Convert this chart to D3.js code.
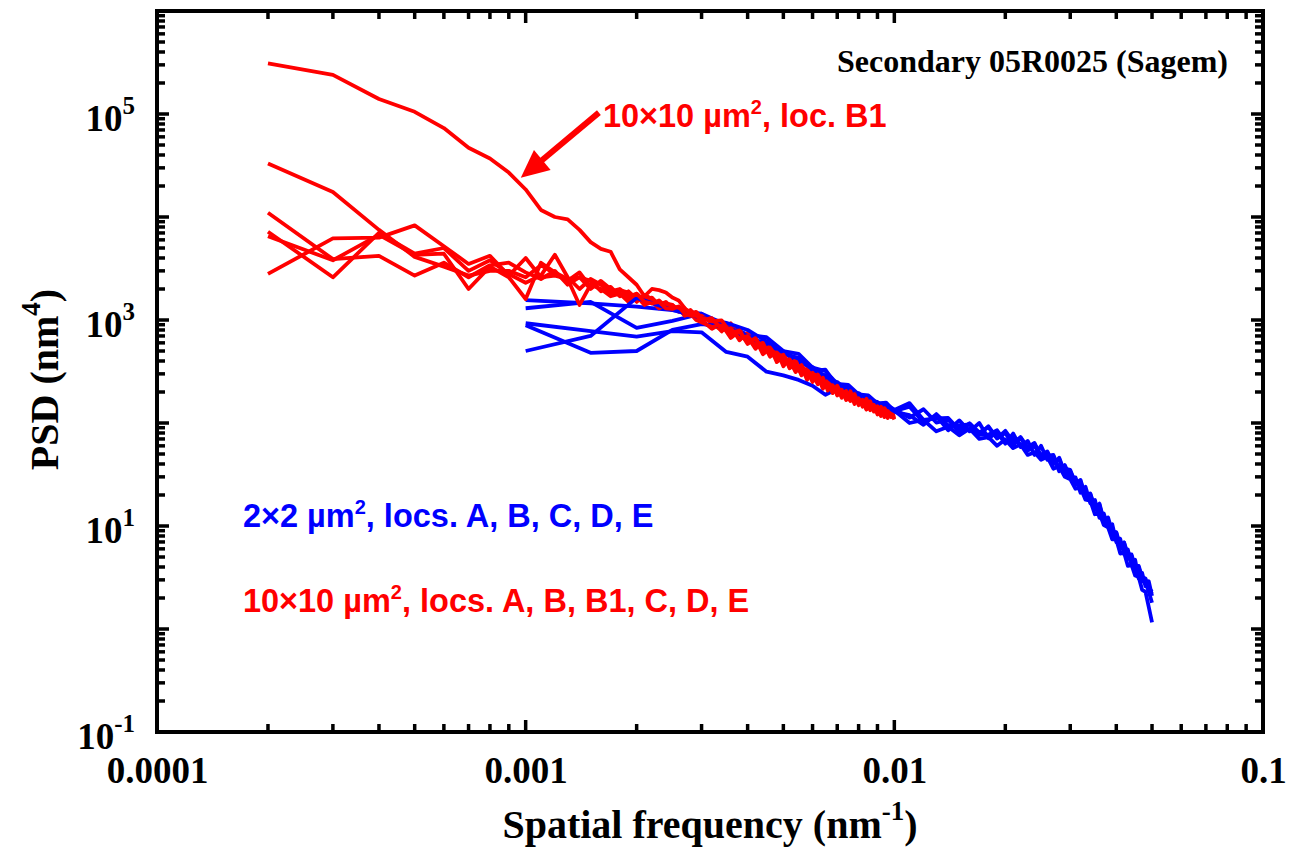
<!DOCTYPE html>
<html>
<head>
<meta charset="utf-8">
<script src="https://cdn.jsdelivr.net/npm/d3@7"></script>
<style>
  body { margin: 0; background: #fff; }
  svg { display: block; }
  .serif { font-family: "Liberation Serif", "Times New Roman", serif; font-weight: bold; }
  .sans { font-family: "Liberation Sans", Arial, sans-serif; font-weight: bold; }
</style>
</head>
<body>
<div id="chart"></div>
<script>
// frequencies (nm^-1) of the 10x10 um^2 scans
var redFreq = [0.0002,0.0003,0.0004,0.0005,0.0006,0.0007,0.0008,0.0009,0.0010,
  0.0011,0.0012,0.0013,0.0014,0.0015,0.0016,0.0017,0.0018,0.0019,0.0020,
  0.0021,0.0022,0.0023,0.0024,0.0025,0.0026,0.0027,0.0028,0.0029,0.0030,
  0.0032,0.0034,0.0036,0.0038,0.0040,0.0042,0.0044,0.0046,0.0048,0.0050,
  0.0052,0.0054,0.0056,0.0058,0.0060,0.0062,0.0064,0.0066,0.0068,0.0070,
  0.0072,0.0074,0.0076,0.0078,0.0080,0.0082,0.0084,0.0086,0.0088,0.0090,
  0.0092,0.0094,0.0096,0.0098,0.0100];

// frequencies (nm^-1) of the 2x2 um^2 scans
var blueFreq = [0.0010,0.0015,0.0020,0.0025,0.0030,0.0035,0.0040,0.0045,0.0050,0.0055,
  0.0060,0.0065,0.0070,0.0075,0.0080,0.0085,0.0090,0.0095,0.0100,
  0.011,0.012,0.013,0.014,0.015,0.016,0.017,0.018,0.019,0.020,
  0.021,0.022,0.023,0.024,0.025,0.026,0.027,0.028,0.029,0.030,
  0.031,0.032,0.033,0.034,0.035,0.036,0.037,0.038,0.039,0.040,
  0.041,0.042,0.043,0.044,0.045,0.046,0.047,0.048,0.049,0.050];

// PSD (nm^4), 10x10 um^2
var redB1 = [310000,240000,140000,105000,73000,47000,37000,27000,18500,
  11700,10000,9500,7500,5700,4900,4600,3100,2600,2200,
  1700,2000,1950,1850,1650,1550,1300,1150,1200,1050,
  975,990,750,790,600,665,490,540,435,460,
  345,390,315,320,250,295,230,245,200,230,
  190,205,164,191,153,168,146,163,129,145,
  126,139,115,123,117];
var redA = [33000,17500,7500,4100,3300,2700,3000,3000,2600,
  3400,2800,2400,2900,2100,2300,1900,2000,1700,1800,
  1550,1650,1400,1500,1300,1350,1200,1250,1100,1080,
  1020,775,930,685,685,525,625,460,505,355,
  430,335,355,262,328,240,262,216,255,185,
  220,180,191,153,186,147,169,133,154,131,
  146,114,131,115,119];
var redB = [11000,3900,4200,2700,3600,2600,3400,3600,2900,
  2500,3000,2200,2600,2400,1900,2100,1700,1900,1600,
  1700,1450,1550,1350,1400,1250,1300,1150,1150,1000,
  820,930,710,805,620,655,465,525,425,485,
  340,375,295,340,262,285,215,258,204,220,
  176,209,167,188,149,179,136,155,132,152,
  120,135,112,131,111];
var redC = [7200,2600,7000,4400,5000,3000,3800,2800,2300,
  2700,4300,2600,2000,2500,2200,1800,1950,1850,1500,
  1750,1600,1350,1450,1400,1200,1250,1200,1050,1100,
  930,790,870,635,750,535,590,475,530,380,
  405,312,370,290,300,238,288,216,226,189,
  224,175,191,165,183,144,162,141,157,121,
  140,119,137,115,115];
var redD = [6500,3800,6700,4300,4400,2000,3300,2600,1600,
  3600,2900,2500,1400,2200,2000,1700,1800,1500,1700,
  1400,1500,1300,1380,1250,1300,1100,1150,1000,950,
  855,905,670,780,585,665,518,550,390,440,
  365,410,290,335,262,305,225,258,195,227,
  184,200,164,195,158,168,135,163,136,145,
  117,142,119,127,108];
var redE = [2800,6200,6300,8300,5200,3500,4200,2700,4000,
  2600,2700,2500,2600,2000,2400,2000,1800,1600,1800,
  1500,1450,1500,1300,1280,1350,1150,1100,1100,1000,
  1040,815,830,660,700,565,600,440,485,400,
  415,320,365,280,308,252,275,207,233,193,
  210,167,204,160,174,152,172,136,150,124,
  144,119,131,115,122];

// PSD (nm^4), 2x2 um^2
var blueA = [1560,1450,1350,1250,1150,900,720,680,500,470,345,320,240,235,190,185,155,158,130,
  144,102,117,85,106,83,100,71,81,63,
  79,58.5,67,49,60,44,48,34,39,29.5,
  29.7,21,24,16.6,17.9,12,13.2,9.7,10.4,7,
  7.5,5.3,5.9,4.2,4.7,3.1,3.5,2.6,2.9,2.1];
var blueB = [1300,1500,840,980,1150,820,660,600,460,430,320,330,225,225,185,180,150,152,135,
  113,136,101,108,81,99,77,93,71,80,
  61,73,58,64,45,52,40,45,31,33,
  25,27,18.5,20.4,14.4,16.1,11,11.3,7.9,8.6,
  6.1,6.9,4.8,5.1,3.6,4.0,2.9,2.9,2.3,1.8];
var blueC = [930,780,690,780,760,490,440,315,290,262,230,188,215,190,172,162,150,140,132,
  100,107,83,92,76,88,70,73,60,69,
  57,62,49,52,44,47,36,38,30,28.5,
  23,23.5,18,17.6,13,13.4,10.2,9.7,7.4,7.4,
  5.4,5.5,4.1,4.2,3.3,3.2,2.4,2.3,1.63,1.16];
var blueD = [890,480,500,800,910,860,700,560,500,390,350,270,250,200,195,165,160,140,134,
  156,107,111,112,86,99,81,91,71,84,
  66,72,55,63,49,53,40,46,33,34,
  26,28,19.3,20.7,15.2,16.5,11.4,12.1,8.8,8.7,
  6.5,6.9,5.3,5.3,4.0,4.1,3.2,3.1,2.5,2.3];
var blueE = [500,700,1640,1250,1050,940,800,620,480,420,330,290,230,218,180,176,150,150,128,
  119,96,122,95,95,97,77,77,85,66,
  72,62,54,60,48,48,49,36,36,35,
  26,24.5,19,19.4,15.2,14,10.8,11,8.3,7.8,
  6.9,5.7,5.6,4.3,4.2,3.4,3.1,2.8,2.4,2.2];

var xTicks = [0.0001, 0.001, 0.01, 0.1];
var xTickLabels = ["0.0001", "0.001", "0.01", "0.1"];
var yTicks = [0.1, 10, 1000, 100000];
var yTickExps = ["-1", "1", "3", "5"];

// annotation anchors, in data units
var arrowFrom = [0.00158, 1.03e5];
var arrowTo = [0.00097, 2.4e4];
var noteAt = [0.00162, 7.5e4];
var blueNoteAt = [0.000171, 9.8];
var redNoteAt = [0.000171, 1.46];

(function() {
  var margin = { top: 11, left: 157, right: 27, bottom: 120 },
      width = 1290 - margin.left - margin.right,
      height = 852 - margin.top - margin.bottom;

  var svg = d3.select("#chart")
      .append("svg")
      .attr("width", width + margin.left + margin.right)
      .attr("height", height + margin.top + margin.bottom)
      .append("g")
      .attr("transform", "translate(" + margin.left + "," + margin.top + ")");

  var xPositionScale = d3.scaleLog()
    .domain([0.0001, 0.1])
    .range([0, width]);

  var yPositionScale = d3.scaleLog()
    .domain([0.1, 1e6])
    .range([height, 0]);

  var series = [
    [blueFreq, blueA, "#0000ff"],
    [redFreq, redA, "#ff0000"],
    [blueFreq, blueB, "#0000ff"],
    [redFreq, redB, "#ff0000"],
    [blueFreq, blueC, "#0000ff"],
    [redFreq, redC, "#ff0000"],
    [blueFreq, blueD, "#0000ff"],
    [redFreq, redD, "#ff0000"],
    [blueFreq, blueE, "#0000ff"],
    [redFreq, redE, "#ff0000"],
    [redFreq, redB1, "#ff0000"]
  ].map(function(s) {
    return { color: s[2], points: s[0].map(function(f, i) { return [f, s[1][i]]; }) };
  });

  var line = d3.line()
    .x(function(d) { return xPositionScale(d[0]); })
    .y(function(d) { return yPositionScale(d[1]); });

  svg.selectAll(".psd")
    .data(series)
    .enter().append("path")
    .attr("class", "psd")
    .attr("d", function(d) { return line(d.points); })
    .attr("fill", "none")
    .attr("stroke", function(d) { return d.color; })
    .attr("stroke-width", 3.8)
    .attr("stroke-linejoin", "round");

  // inside ticks on all four sides, drawn straight from the scales
  function isDecade(t) {
    return Math.abs(Math.log10(t) - Math.round(Math.log10(t))) < 1e-6;
  }
  var xAll = xPositionScale.ticks(),
      yAll = yPositionScale.ticks();
  var tickLen = function(t) { return isDecade(t) ? 12 : 8; };

  var ticks = svg.append("g")
    .attr("stroke", "#000")
    .attr("stroke-width", 3.5);

  ticks.selectAll(".xt-bottom")
    .data(xAll)
    .enter().append("line")
    .attr("class", "xt-bottom")
    .attr("x1", function(d) { return xPositionScale(d); })
    .attr("x2", function(d) { return xPositionScale(d); })
    .attr("y1", height)
    .attr("y2", function(d) { return height - tickLen(d); });

  ticks.selectAll(".xt-top")
    .data(xAll)
    .enter().append("line")
    .attr("class", "xt-top")
    .attr("x1", function(d) { return xPositionScale(d); })
    .attr("x2", function(d) { return xPositionScale(d); })
    .attr("y1", 0)
    .attr("y2", function(d) { return tickLen(d); });

  ticks.selectAll(".yt-left")
    .data(yAll)
    .enter().append("line")
    .attr("class", "yt-left")
    .attr("y1", function(d) { return yPositionScale(d); })
    .attr("y2", function(d) { return yPositionScale(d); })
    .attr("x1", 0)
    .attr("x2", function(d) { return tickLen(d); });

  ticks.selectAll(".yt-right")
    .data(yAll)
    .enter().append("line")
    .attr("class", "yt-right")
    .attr("y1", function(d) { return yPositionScale(d); })
    .attr("y2", function(d) { return yPositionScale(d); })
    .attr("x1", width)
    .attr("x2", function(d) { return width - tickLen(d); });

  function styleAxis(g) {
    g.select(".domain").remove();
    g.selectAll(".tick line").remove();
  }

  var xAxis = d3.axisBottom(xPositionScale)
    .tickValues(xTicks)
    .tickSizeOuter(0)
    .tickSizeInner(0)
    .tickPadding(25)
    .tickFormat(function(d, i) { return xTickLabels[i]; });
  svg.append("g")
    .attr("class", "axis x-axis")
    .attr("transform", "translate(0," + height + ")")
    .call(xAxis)
    .call(styleAxis)
    .selectAll("text")
    .attr("class", "serif")
    .attr("font-size", 37)
    .attr("fill", "#000");

  var yAxis = d3.axisLeft(yPositionScale)
    .tickValues(yTicks)
    .tickSizeOuter(0)
    .tickSizeInner(0)
    .tickPadding(22)
    .tickFormat(function() { return ""; });
  var yG = svg.append("g")
    .attr("class", "axis y-axis")
    .call(yAxis)
    .call(styleAxis);
  yG.selectAll(".tick text")
    .attr("class", "serif")
    .attr("font-size", 37)
    .attr("fill", "#000")
    .attr("dy", "0.45em")
    .each(function(d, i) {
      var t = d3.select(this);
      t.append("tspan").text("10");
      t.append("tspan").attr("dy", -17).attr("font-size", 25).text(yTickExps[i]);
    });

  // frame
  svg.append("rect")
    .attr("width", width)
    .attr("height", height)
    .attr("fill", "none")
    .attr("stroke", "#000")
    .attr("stroke-width", 4);

  // axis titles
  var xt = svg.append("text")
    .attr("class", "serif")
    .attr("x", width / 2)
    .attr("y", height + 106)
    .attr("text-anchor", "middle")
    .attr("font-size", 40);
  xt.append("tspan").text("Spatial frequency (nm");
  xt.append("tspan").attr("dy", -18).attr("font-size", 27).text("-1");
  xt.append("tspan").attr("dy", 18).text(")");

  var yt = svg.append("text")
    .attr("class", "serif")
    .attr("transform", "translate(" + (-margin.left + 58) + "," + (height / 2 + 8) + ") rotate(-90)")
    .attr("text-anchor", "middle")
    .attr("font-size", 40);
  yt.append("tspan").text("PSD (nm");
  yt.append("tspan").attr("dy", -18).attr("font-size", 27).text("4");
  yt.append("tspan").attr("dy", 18).text(")");

  svg.append("text")
    .attr("class", "serif")
    .attr("x", width - 35)
    .attr("y", 61)
    .attr("text-anchor", "end")
    .attr("font-size", 32)
    .text("Secondary 05R0025 (Sagem)");

  function note(at, color, parts) {
    var t = svg.append("text")
      .attr("class", "sans")
      .attr("x", xPositionScale(at[0]))
      .attr("y", yPositionScale(at[1]))
      .attr("fill", color)
      .attr("font-size", 32.5);
    t.append("tspan").text(parts[0]);
    t.append("tspan").attr("dy", -13).attr("font-size", 20).text("2");
    t.append("tspan").attr("dy", 13).text(parts[1]);
  }
  note(noteAt, "#ff0000", ["10\u00d710 \u00b5m", ", loc. B1"]);
  note(blueNoteAt, "#0000ff", ["2\u00d72 \u00b5m", ", locs. A, B, C, D, E"]);
  note(redNoteAt, "#ff0000", ["10\u00d710 \u00b5m", ", locs. A, B, B1, C, D, E"]);

  // arrow to the B1 curve
  var x0 = xPositionScale(arrowFrom[0]), y0 = yPositionScale(arrowFrom[1]),
      x1 = xPositionScale(arrowTo[0]), y1 = yPositionScale(arrowTo[1]);
  var len = Math.sqrt((x1 - x0) * (x1 - x0) + (y1 - y0) * (y1 - y0)),
      ux = (x1 - x0) / len, uy = (y1 - y0) / len,
      headLen = 28, headHalf = 13;
  var bx = x1 - ux * headLen, by = y1 - uy * headLen;
  svg.append("line")
    .attr("x1", x0).attr("y1", y0)
    .attr("x2", bx + ux * 2).attr("y2", by + uy * 2)
    .attr("stroke", "#ff0000")
    .attr("stroke-width", 6);
  svg.append("path")
    .attr("d", "M" + x1 + "," + y1 +
      "L" + (bx - uy * headHalf) + "," + (by + ux * headHalf) +
      "L" + (bx + uy * headHalf) + "," + (by - ux * headHalf) + "Z")
    .attr("fill", "#ff0000");
})();
</script>
</body>
</html>
